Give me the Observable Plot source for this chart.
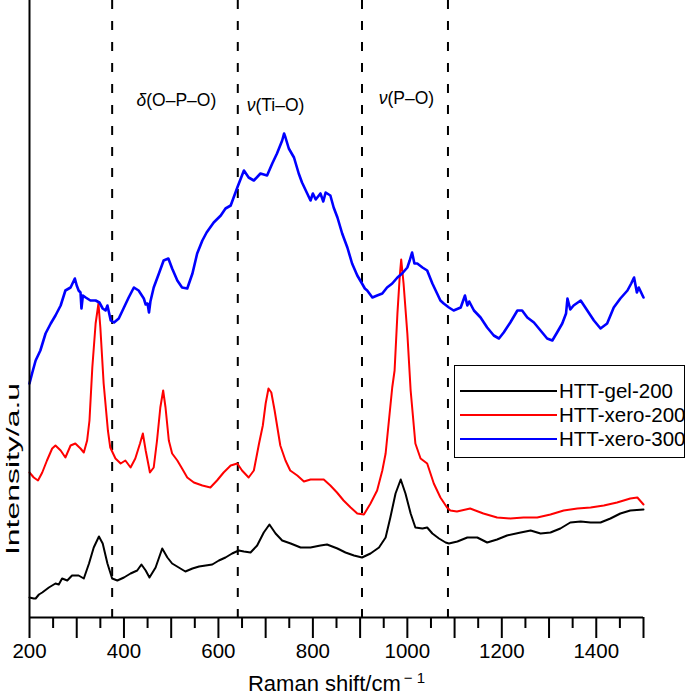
<!DOCTYPE html>
<html><head><meta charset="utf-8">
<script src="https://cdn.jsdelivr.net/npm/d3@7"></script>
<script src="https://cdn.jsdelivr.net/npm/@observablehq/plot@0.6"></script>
<style>
body{margin:0;background:#fff;}
#wrap{position:relative;width:685px;height:697px;font-family:"Liberation Sans",Arial,Helvetica,sans-serif;}
#legend{position:absolute;left:454px;top:365px;width:231px;height:93px;border:1.5px solid #000;box-sizing:border-box;background:#fff;}
.row{position:absolute;left:5px;height:24px;display:flex;align-items:center;font-size:20.5px;color:#000;white-space:nowrap;}
.sw{display:inline-block;width:97px;height:2px;margin-right:2px;}
</style></head><body><div id="wrap"></div>
<script>
// ---- data (x: Raman shift cm^-1, y: intensity a.u.) ----
const seriesNames = ["HTT-gel-200", "HTT-xero-200", "HTT-xero-300"];
const seriesColors = ["#000000", "#ff0000", "#0000ff"];
const seriesWidths = [2, 2, 2.6];

const gelX = [200,209,213,220,227,241,255,262,269,280,290,304,315,326,336,347,355,365,375,386,400,414,428,437,446,454,467,481,492,502,516,530,545,559,573,587,601,615,629,643,654,668,682,696,708,721,735,753,774,795,816,830,852,869,887,904,922,940,954,964,975,986,996,1007,1017,1032,1042,1053,1067,1081,1088,1106,1127,1148,1169,1190,1211,1240,1261,1282,1303,1324,1345,1367,1388,1409,1430,1451,1472,1500];
const gelY = [20,19,19,23,25,30,34,33,39,37,42,42,39,54,70,81,74,54,39,37,40,44,47,53,47,40,50,69,60,54,50,46,49,51,52,53,57,60,64,67,66,65,72,85,93,84,77,74,70,70,72,73,69,65,62,60,64,70,80,100,124,138,124,104,90,89,90,84,79,75,74,76,80,80,75,78,82,85,87,84,85,89,95,96,95,95,99,104,107,108];

const xero200X = [200,209,218,227,237,248,255,266,276,287,297,308,315,322,327,333,340,346,350,357,366,371,382,393,403,414,424,434,440,446,455,463,470,477,483,488,495,502,513,523,534,548,566,583,597,611,626,640,650,664,675,686,694,700,706,712,719,731,742,752,767,781,795,809,823,837,851,865,880,894,908,922,936,947,954,961,968,973,979,984,987,992,1000,1007,1017,1028,1042,1056,1070,1084,1091,1105,1133,1161,1190,1218,1246,1275,1303,1331,1360,1388,1416,1444,1472,1487,1500];
const xero200Y = [145,140,137,145,157,169,172,167,160,172,174,169,165,177,197,250,294,314,290,234,187,170,159,154,157,150,159,174,184,167,145,150,177,210,227,210,177,164,157,149,140,135,132,130,137,145,152,154,147,140,147,174,192,214,229,225,207,172,157,147,142,136,138,138,138,132,125,117,110,104,103,114,127,147,164,197,230,247,304,342,358,334,284,227,174,159,154,134,120,110,107,106,109,104,100,99,100,100,103,107,109,110,112,115,119,120,113];

const xero300X = [200,206,213,223,234,245,255,266,276,287,296,300,304,308,310,313,319,329,340,348,355,361,365,372,379,389,400,410,421,431,442,446,450,453,456,463,474,484,494,502,513,523,534,545,555,566,575,590,605,615,626,640,654,664,675,689,703,714,724,735,739,742,749,760,770,777,788,795,800,806,816,822,827,837,844,852,862,873,883,894,904,910,915,926,936,947,957,968,979,989,1000,1005,1010,1015,1021,1032,1042,1053,1063,1070,1077,1088,1098,1113,1122,1127,1131,1141,1155,1169,1183,1194,1204,1218,1233,1243,1254,1268,1282,1296,1307,1317,1328,1336,1339,1345,1352,1367,1381,1395,1409,1423,1437,1451,1466,1474,1480,1486,1490,1500];
const xero300Y = [234,245,257,267,284,294,302,312,327,330,339,332,327,325,309,322,320,317,317,315,309,307,312,297,295,299,310,320,330,327,319,313,314,305,316,330,344,357,359,349,337,330,329,344,364,377,385,395,402,409,412,430,447,440,437,444,442,454,464,477,484,480,469,460,444,435,424,417,424,418,424,416,425,422,410,400,384,370,354,342,334,329,327,320,322,324,330,334,340,344,350,357,365,354,354,350,347,334,324,317,314,310,307,310,322,312,316,307,300,290,282,279,285,295,307,307,300,295,287,279,277,285,294,304,319,308,312,317,307,297,289,294,310,319,327,334,340,325,330,320];

// band edges (dashed lines) and band annotations
const bandEdges = [375, 641, 904, 1086];
const bandLabels = ["δ(O–P–O)", "ν(Ti–O)", "ν(P–O)"];
const bandLabelX = [511, 721, 998];
const bandLabelY = [517, 512, 519];

// axis ticks and titles
const majorTicks = [200,300,400,500,600,700,800,900,1000,1100,1200,1300,1400,1500];
const minorTicks = [250,350,450,550,650,750,850,950,1050,1150,1250,1350,1450];
const tickLabels = [200,400,600,800,1000,1200,1400];
const xTitle = "Raman shift/cm";
const xTitleSup = "− 1";
const yTitle = "Intensity/a.u";

// ---- build tables ----
const toRows = (xs, ys, s) => xs.map((x, i) => ({x, y: ys[i], series: s}));
const seriesData = [
  toRows(gelX, gelY, seriesNames[0]),
  toRows(xero200X, xero200Y, seriesNames[1]),
  toRows(xero300X, xero300Y, seriesNames[2])
];
const annotations = bandLabels.map((label, i) => ({label, x: bandLabelX[i], y: bandLabelY[i]}));

const font = "Liberation Sans, Arial, Helvetica, sans-serif";
const chart = Plot.plot({
  width: 685, height: 697,
  marginLeft: 29, marginRight: 42, marginTop: 0, marginBottom: 80,
  style: {fontFamily: font, fontSize: "20px", color: "#000", background: "#fff", overflow: "visible"},
  x: {domain: [200, 1500]},
  y: {domain: [0, 617], axis: null},
  color: {domain: seriesNames, range: seriesColors},
  marks: [
    Plot.ruleX(bandEdges, {stroke: "#000", strokeWidth: 2, strokeDasharray: "9,12"}),
    ...seriesData.map((rows, i) => Plot.line(rows, {x: "x", y: "y", stroke: "series", strokeWidth: seriesWidths[i], strokeLinejoin: "round"})),
    Plot.ruleX([200], {stroke: "#000", strokeWidth: 2}),
    Plot.ruleY([0], {stroke: "#000", strokeWidth: 2}),
    Plot.axisX({ticks: minorTicks, tickSize: 11, tickFormat: () => "", strokeWidth: 2, label: null}),
    Plot.axisX({ticks: majorTicks, tickSize: 21, tickPadding: 5, strokeWidth: 2, fontSize: 20.5, label: null,
      tickFormat: d => tickLabels.includes(d) ? String(d) : ""}),
    Plot.text(annotations, {x: "x", y: "y", text: "label", fontSize: 17.5, fill: "#000"}),
    Plot.text([xTitle], {frameAnchor: "bottom", dy: 73, fontSize: 22, fill: "#000", text: d => d})
  ]
});

// rich text: italic Greek letters and superscript
d3.select(chart).selectAll("text").each(function () {
  const t = this.textContent;
  const el = d3.select(this);
  if (bandLabels.includes(t)) {
    el.text(null);
    el.append("tspan").attr("font-style", "italic").text(t[0]);
    el.append("tspan").text(t.slice(1));
  } else if (t === xTitle) {
    el.text(null);
    el.append("tspan").text(xTitle);
    el.append("tspan").attr("font-size", 15).attr("dy", "-0.5em").attr("dx", 3).text(xTitleSup);
  }
});

// y title (elongated glyphs like the original)
d3.select(chart).append("text")
  .attr("transform", "translate(19,469) rotate(-90)")
  .attr("text-anchor", "middle")
  .attr("font-size", 19)
  .attr("font-family", font)
  .attr("fill", "#000")
  .attr("textLength", 172)
  .attr("lengthAdjust", "spacingAndGlyphs")
  .text(yTitle);

const wrap = document.getElementById("wrap");
wrap.appendChild(chart);

// legend
const legend = document.createElement("div");
legend.id = "legend";
seriesNames.forEach((name, i) => {
  const row = document.createElement("div");
  row.className = "row";
  row.style.top = (13 + i * 24) + "px";
  const sw = document.createElement("span");
  sw.className = "sw";
  sw.style.background = seriesColors[i];
  row.appendChild(sw);
  row.appendChild(document.createTextNode(name));
  legend.appendChild(row);
});
wrap.appendChild(legend);
</script></body></html>
